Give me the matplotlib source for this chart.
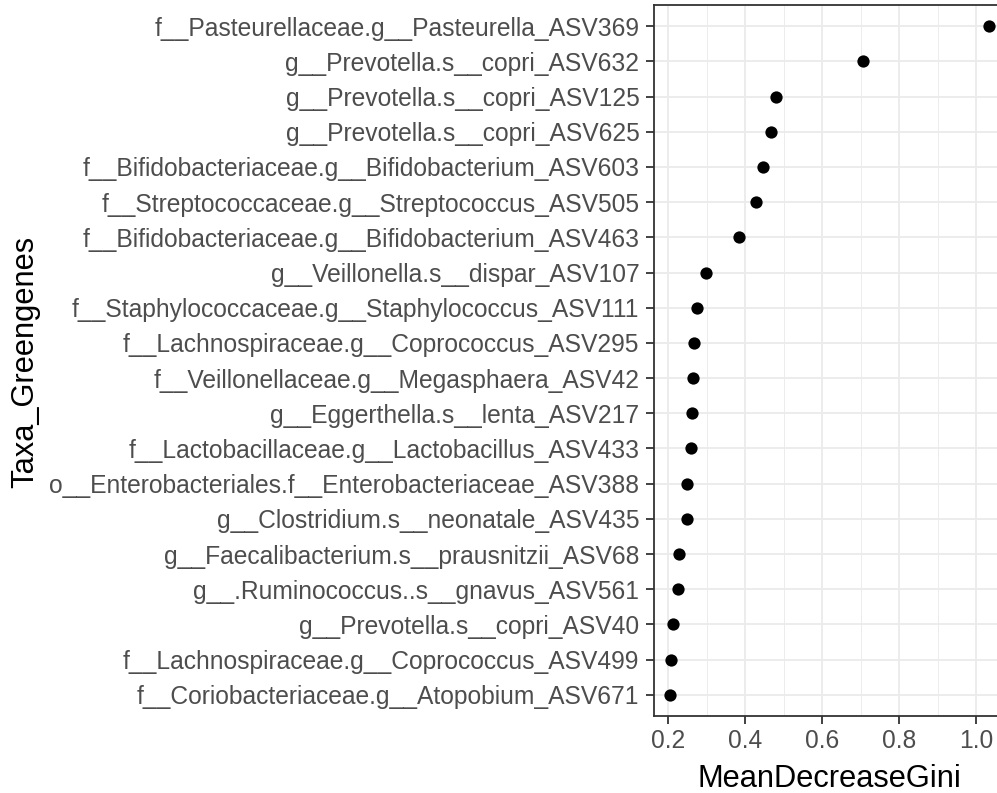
import numpy as np
import matplotlib.pyplot as plt
from matplotlib.ticker import MultipleLocator

plt.rcParams['font.family'] = ['Liberation Sans', 'DejaVu Sans']

# Dados (de cima para baixo)
taxa = [
    'f__Pasteurellaceae.g__Pasteurella_ASV369',
    'g__Prevotella.s__copri_ASV632',
    'g__Prevotella.s__copri_ASV125',
    'g__Prevotella.s__copri_ASV625',
    'f__Bifidobacteriaceae.g__Bifidobacterium_ASV603',
    'f__Streptococcaceae.g__Streptococcus_ASV505',
    'f__Bifidobacteriaceae.g__Bifidobacterium_ASV463',
    'g__Veillonella.s__dispar_ASV107',
    'f__Staphylococcaceae.g__Staphylococcus_ASV111',
    'f__Lachnospiraceae.g__Coprococcus_ASV295',
    'f__Veillonellaceae.g__Megasphaera_ASV42',
    'g__Eggerthella.s__lenta_ASV217',
    'f__Lactobacillaceae.g__Lactobacillus_ASV433',
    'o__Enterobacteriales.f__Enterobacteriaceae_ASV388',
    'g__Clostridium.s__neonatale_ASV435',
    'g__Faecalibacterium.s__prausnitzii_ASV68',
    'g__.Ruminococcus..s__gnavus_ASV561',
    'g__Prevotella.s__copri_ASV40',
    'f__Lachnospiraceae.g__Coprococcus_ASV499',
    'f__Coriobacteriaceae.g__Atopobium_ASV671',
]
gini = [1.033, 0.706, 0.480, 0.468, 0.447, 0.429, 0.383, 0.299, 0.274, 0.267,
        0.266, 0.262, 0.260, 0.250, 0.249, 0.229, 0.226, 0.212, 0.207, 0.205]

W, H = 997, 793
fig = plt.figure(figsize=(W / 100, H / 100), dpi=100)
# painel (em pixels): esquerda 654, direita 1005 (cortado), topo 5, base 716
ax = fig.add_axes([654 / W, 1 - 716 / H, (1005 - 654) / W, (716 - 5) / H])

n = len(taxa)
ypos = np.arange(n)[::-1]
ax.scatter(gini, ypos, s=78, color='black', zorder=3, linewidths=0)

ax.set_yticks(ypos)
ax.set_yticklabels(taxa)
ax.set_ylim(-0.6, n - 1 + 0.6)
span = max(gini) - min(gini)
ax.set_xlim(min(gini) - 0.05 * span, max(gini) + 0.05 * span)
ax.xaxis.set_major_locator(MultipleLocator(0.2))
ax.xaxis.set_minor_locator(MultipleLocator(0.1))

ax.grid(which='major', color='#EBEBEB', linewidth=1.3, zorder=0)
ax.grid(which='minor', axis='x', color='#EBEBEB', linewidth=0.65, zorder=0)
ax.set_axisbelow(True)
for s in ax.spines.values():
    s.set_color('#333333')
    s.set_linewidth(1.3)

ax.tick_params(which='major', length=5.5, width=1.3, color='#333333',
               labelsize=17.7, labelcolor='#4D4D4D')
ax.tick_params(axis='x', pad=3.5)
ax.tick_params(axis='y', pad=5)
ax.tick_params(which='minor', length=0)

fig.text(829.7 / W, 1 - 787 / H, 'MeanDecreaseGini', fontsize=22.2,
         ha='center', va='baseline')
fig.text(25 / W, 1 - 362 / H, 'Taxa_Greengenes', fontsize=22.2,
         ha='center', va='center', rotation=90)

fig.savefig('out.png', dpi=100)
